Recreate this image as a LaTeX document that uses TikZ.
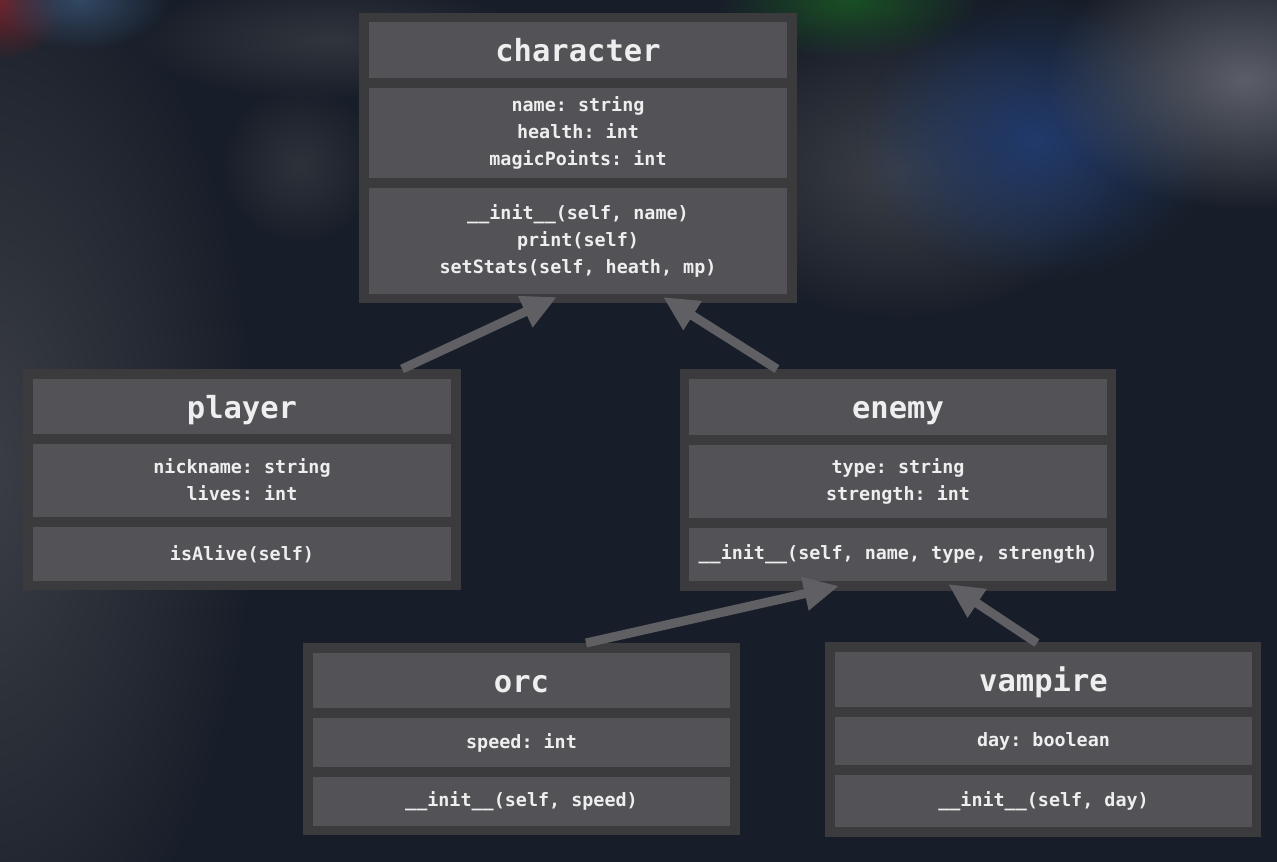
\documentclass[tikz,border=0pt]{standalone}
\usepackage{fontspec}
\setmonofont{DejaVu Sans Mono}
\usetikzlibrary{arrows.meta,fadings}
\tikzfading[name=glowfade, inner color=transparent!0, outer color=transparent!100]
\definecolor{bgc}{RGB}{24,30,41}
\definecolor{framec}{RGB}{59,59,61}
\definecolor{sectc}{RGB}{83,82,86}
\definecolor{txtc}{RGB}{238,238,238}
\definecolor{arrowc}{RGB}{96,95,100}
\definecolor{blobred}{RGB}{120,32,38}
\definecolor{blobsteel}{RGB}{50,72,100}
\definecolor{blobgray}{RGB}{60,63,70}
\definecolor{blobgreen}{RGB}{26,80,36}
\definecolor{blobblue}{RGB}{32,58,108}
\definecolor{blobsilver}{RGB}{92,95,104}
\newcommand{\lstrut}{\rule[-3pt]{0pt}{18pt}}
\tikzset{
  framebox/.style={fill=framec, draw=none, inner sep=0pt, outer sep=0pt},
  sect/.style={fill=sectc, draw=none, inner sep=0pt, outer sep=0pt, text=txtc, align=center},
  titlesect/.style={sect, font=\ttfamily\bfseries\fontsize{30.5}{36}\selectfont, text height=23pt, text depth=0pt},
  bodysect/.style={sect, font=\ttfamily\bfseries\fontsize{18.4}{27}\selectfont},
  inherit/.style={draw=arrowc, line width=9pt, -{Triangle[length=35pt,width=32pt]}, fill=arrowc},
  blob/.style={fill=#1, draw=none, path fading=glowfade}
}
\begin{document}
\begin{tikzpicture}[x=1pt,y=-1pt]
\useasboundingbox (0,0) rectangle (1277,862);
\fill[bgc] (0,0) rectangle (1277,862);
% blurred background
\fill[blob=blobgray] (-20,470) ellipse (280 and 560);
\fill[blob=blobgray, opacity=0.6] (300,165) ellipse (80 and 80);
\fill[blob=blobgray, opacity=0.7] (330,40) ellipse (200 and 60);
\fill[blob=blobred] (0,0) ellipse (70 and 60);
\fill[blob=blobsteel] (80,0) ellipse (90 and 50);
\fill[blob=blobgreen] (850,0) ellipse (130 and 60);
\fill[blob=blobgray] (900,170) ellipse (220 and 150);
\fill[blob=blobblue] (1035,140) ellipse (180 and 140);
\fill[blob=blobsilver] (1245,80) ellipse (200 and 130);

% character
\node[framebox, minimum width=438pt, minimum height=290pt] (character) at (578,158) {};
\node[titlesect, minimum width=418pt, minimum height=56pt] (character-t) at (578,50) {character};
\node[bodysect, minimum width=418pt, minimum height=90pt] (character-a) at (578,133)
  {\lstrut name: string\\\lstrut health: int\\\lstrut magicPoints: int};
\node[bodysect, minimum width=418pt, minimum height=106pt] (character-m) at (578,241)
  {\lstrut\_\_init\_\_(self, name)\\\lstrut print(self)\\\lstrut setStats(self, heath, mp)};

% player
\node[framebox, minimum width=438pt, minimum height=221pt] (player) at (242,479.5) {};
\node[titlesect, minimum width=418pt, minimum height=55pt] (player-t) at (242,406.5) {player};
\node[bodysect, minimum width=418pt, minimum height=73pt] (player-a) at (242,480.5)
  {\lstrut nickname: string\\\lstrut lives: int};
\node[bodysect, minimum width=418pt, minimum height=54pt] (player-m) at (242,554)
  {\lstrut isAlive(self)};

% enemy
\node[framebox, minimum width=436pt, minimum height=222pt] (enemy) at (898,480) {};
\node[titlesect, minimum width=418pt, minimum height=56pt] (enemy-t) at (898,407) {enemy};
\node[bodysect, minimum width=418pt, minimum height=73pt] (enemy-a) at (898,481.5)
  {\lstrut type: string\\\lstrut strength: int};
\node[bodysect, minimum width=418pt, minimum height=53pt] (enemy-m) at (898,554.5)
  {\lstrut\_\_init\_\_(self, name, type, strength)};

% orc
\node[framebox, minimum width=437pt, minimum height=192pt] (orc) at (521.5,739) {};
\node[titlesect, minimum width=417pt, minimum height=55pt] (orc-t) at (521.5,680.5) {orc};
\node[bodysect, minimum width=417pt, minimum height=49pt] (orc-a) at (521.5,742.5)
  {\lstrut speed: int};
\node[bodysect, minimum width=417pt, minimum height=49pt] (orc-m) at (521.5,801.5)
  {\lstrut\_\_init\_\_(self, speed)};

% vampire
\node[framebox, minimum width=436pt, minimum height=195pt] (vampire) at (1043,739.5) {};
\node[titlesect, minimum width=417pt, minimum height=55pt] (vampire-t) at (1043.5,679.5) {vampire};
\node[bodysect, minimum width=417pt, minimum height=48pt] (vampire-a) at (1043.5,741)
  {\lstrut day: boolean};
\node[bodysect, minimum width=417pt, minimum height=52pt] (vampire-m) at (1043.5,801)
  {\lstrut\_\_init\_\_(self, day)};

% connector end points
\coordinate (p-start) at (402,369);
\coordinate (p-end) at (557,297);
\coordinate (e-start) at (777,369);
\coordinate (e-end) at (663,297);
\coordinate (o-start) at (586,643);
\coordinate (o-end) at (839,586);
\coordinate (v-start) at (1037,643);
\coordinate (v-end) at (948,584);

\draw[inherit] (p-start) -- (p-end);
\draw[inherit] (e-start) -- (e-end);
\draw[inherit] (o-start) -- (o-end);
\draw[inherit] (v-start) -- (v-end);
\end{tikzpicture}
\end{document}
